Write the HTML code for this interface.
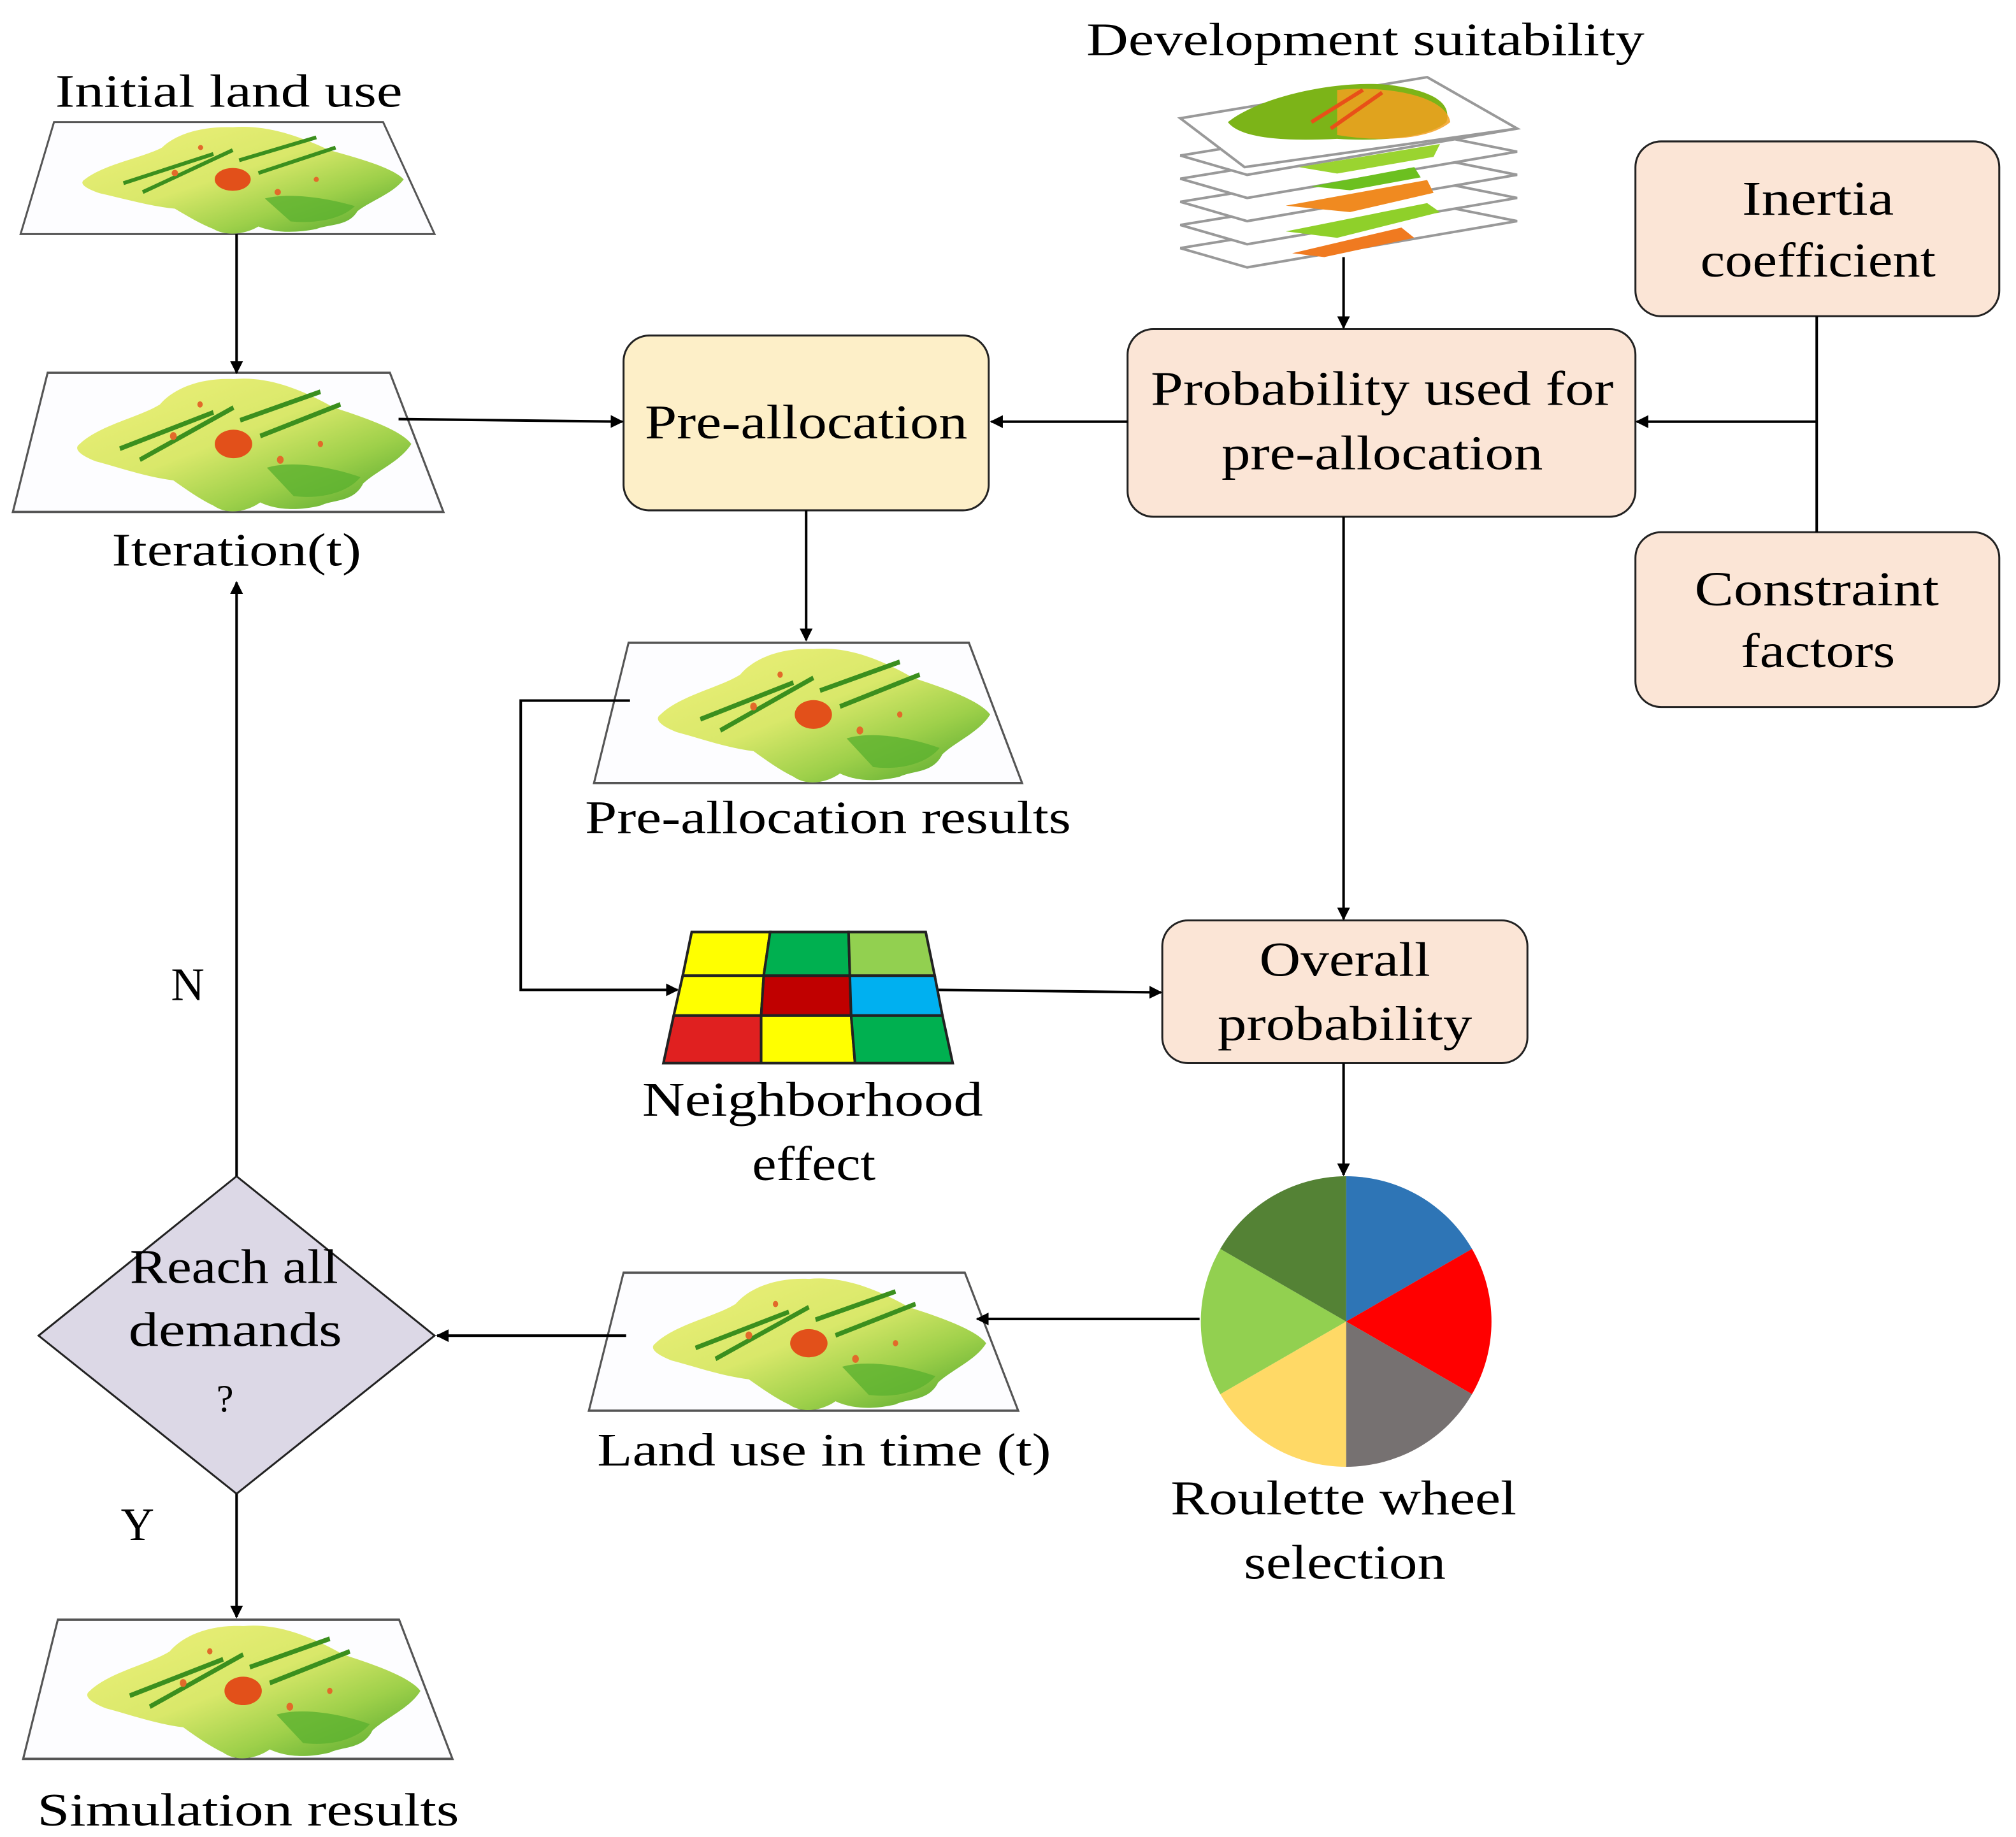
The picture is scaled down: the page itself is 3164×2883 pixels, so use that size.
<!DOCTYPE html>
<html><head><meta charset="utf-8"><style>
html,body{margin:0;padding:0;background:#fff}
svg{display:block}
text{font-family:"Liberation Serif",serif;fill:#000}
</style></head><body>
<svg width="3164" height="2883" viewBox="0 0 1568 1429" preserveAspectRatio="none" xmlns="http://www.w3.org/2000/svg">
<defs>
<marker id="ah" markerWidth="10" markerHeight="10" refX="9" refY="5" orient="auto" markerUnits="userSpaceOnUse" viewBox="0 0 10 10">
<path d="M0,0 L10,5 L0,10 z" fill="#000"/></marker>
<linearGradient id="mg" x1="0" y1="0" x2="1" y2="1">
<stop offset="0" stop-color="#eef07a"/><stop offset="0.45" stop-color="#d9e86a"/><stop offset="0.7" stop-color="#9ed04a"/><stop offset="1" stop-color="#4aa22a"/></linearGradient>
<g id="map">
<polygon points="26,0 282,0 322,88 0,88" fill="#fdfdff" stroke="#555" stroke-width="1.5"/>
<path d="M50,45 C65,33 95,28 110,20 C120,10 140,3 165,4 C190,2 215,10 240,22 C262,28 290,36 298,45 C290,56 272,62 262,70 C255,82 240,80 230,84 C210,88 195,86 185,82 C175,88 160,90 150,84 C140,80 130,74 120,68 C100,66 80,60 62,56 C50,52 45,48 50,45 Z" fill="url(#mg)"/>
<path d="M80,48 L150,25 M95,55 L165,22 M170,30 L230,12 M185,40 L245,20" stroke="#3b8f1e" stroke-width="3" fill="none"/>
<ellipse cx="165" cy="45" rx="14" ry="9" fill="#e2501a"/>
<circle cx="120" cy="40" r="2.5" fill="#e26a2a"/><circle cx="200" cy="55" r="2.5" fill="#e26a2a"/><circle cx="140" cy="20" r="2" fill="#e26a2a"/><circle cx="230" cy="45" r="2" fill="#e26a2a"/>
<path d="M190,60 C210,55 240,60 260,66 C250,76 230,80 210,78 Z" fill="#5cb230" opacity="0.8"/>
</g>
</defs>

<g transform="translate(16,95) scale(1,0.99)"><use href="#map"/></g>
<text x="178" y="83" font-size="36" text-anchor="middle" textLength="270" lengthAdjust="spacingAndGlyphs">Initial land use</text>
<g transform="translate(10,290) scale(1.04,1.23)"><use href="#map"/></g>
<text x="184" y="440" font-size="36" text-anchor="middle" textLength="194" lengthAdjust="spacingAndGlyphs">Iteration(t)</text>
<g transform="translate(462,500) scale(1.034,1.24)"><use href="#map"/></g>
<text x="644" y="648" font-size="36" text-anchor="middle" textLength="378" lengthAdjust="spacingAndGlyphs">Pre-allocation results</text>
<g transform="translate(458,990) scale(1.037,1.22)"><use href="#map"/></g>
<text x="641" y="1140" font-size="36" text-anchor="middle" textLength="353" lengthAdjust="spacingAndGlyphs">Land use in time (t)</text>
<g transform="translate(18,1260) scale(1.037,1.23)"><use href="#map"/></g>
<text x="193" y="1420" font-size="36" text-anchor="middle" textLength="328" lengthAdjust="spacingAndGlyphs">Simulation results</text>

<text x="1062" y="43" font-size="36" text-anchor="middle" textLength="434" lengthAdjust="spacingAndGlyphs">Development suitability</text>
<g stroke="#999" stroke-width="2" fill="#fff">
<polygon points="918,193 1120,160 1180,172 970,208"/>
<polygon points="918,175 1120,142 1180,154 970,190"/>
<polygon points="918,157 1120,124 1180,136 970,172"/>
<polygon points="918,139 1120,106 1180,118 970,154"/>
<polygon points="918,121 1120,88 1180,100 970,136"/>
<polygon points="918,92 1110,60 1180,100 968,130"/>
</g>
<path d="M1005,197 L1090,177 L1100,185 L1030,200Z" fill="#f07a20"/>
<path d="M1000,180 L1110,158 L1120,165 L1040,185Z" fill="#8fd02a"/>
<path d="M1000,160 L1110,140 L1115,150 L1050,165Z" fill="#f08a20"/>
<path d="M1020,145 L1100,130 L1105,138 L1050,148Z" fill="#6cc020"/>
<path d="M1010,130 L1120,112 L1115,122 L1040,135Z" fill="#9ad430"/>
<path d="M955,95 C980,75 1040,62 1080,66 C1110,70 1130,78 1125,95 C1110,108 1070,110 1040,108 C1000,110 965,108 955,95Z" fill="#7cb418"/>
<path d="M1040,70 C1080,66 1125,75 1128,95 C1110,110 1070,110 1040,105 Z" fill="#f2a020" opacity="0.85"/>
<path d="M1020,95 L1060,70 M1035,100 L1075,72" stroke="#e85018" stroke-width="3"/>

<rect x="485" y="261" width="284" height="136" rx="20" fill="#fdefc8" stroke="#222" stroke-width="1.5"/>
<text x="627" y="341" font-size="38" text-anchor="middle" textLength="251" lengthAdjust="spacingAndGlyphs">Pre-allocation</text>
<rect x="877" y="256" width="395" height="146" rx="20" fill="#fbe5d6" stroke="#222" stroke-width="1.5"/>
<text x="1075" y="315" font-size="38" text-anchor="middle" textLength="360" lengthAdjust="spacingAndGlyphs">Probability used for</text>
<text x="1075" y="365" font-size="38" text-anchor="middle" textLength="250" lengthAdjust="spacingAndGlyphs">pre-allocation</text>
<rect x="1272" y="110" width="283" height="136" rx="20" fill="#fbe5d6" stroke="#222" stroke-width="1.5"/>
<text x="1414" y="167" font-size="38" text-anchor="middle" textLength="118" lengthAdjust="spacingAndGlyphs">Inertia</text>
<text x="1414" y="215" font-size="38" text-anchor="middle" textLength="183" lengthAdjust="spacingAndGlyphs">coefficient</text>
<rect x="1272" y="414" width="283" height="136" rx="20" fill="#fbe5d6" stroke="#222" stroke-width="1.5"/>
<text x="1413" y="471" font-size="38" text-anchor="middle" textLength="190" lengthAdjust="spacingAndGlyphs">Constraint</text>
<text x="1414" y="519" font-size="38" text-anchor="middle" textLength="120" lengthAdjust="spacingAndGlyphs">factors</text>
<rect x="904" y="716" width="284" height="111" rx="20" fill="#fbe5d6" stroke="#222" stroke-width="1.5"/>
<text x="1046" y="759" font-size="38" text-anchor="middle" textLength="133" lengthAdjust="spacingAndGlyphs">Overall</text>
<text x="1046" y="809" font-size="38" text-anchor="middle" textLength="198" lengthAdjust="spacingAndGlyphs">probability</text>

<g stroke="#222" stroke-width="2">
<polygon points="538,725 599,725 594,759 531,759" fill="#ffff00"/>
<polygon points="599,725 660,725 661,759 594,759" fill="#00b050"/>
<polygon points="660,725 720,725 727,759 661,759" fill="#92d050"/>
<polygon points="531,759 594,759 592,790 524,790" fill="#ffff00"/>
<polygon points="594,759 661,759 662,790 592,790" fill="#c00000"/>
<polygon points="661,759 727,759 733,790 662,790" fill="#00b0f0"/>
<polygon points="524,790 592,790 592,827 516,827" fill="#e02020"/>
<polygon points="592,790 662,790 665,827 592,827" fill="#ffff00"/>
<polygon points="662,790 733,790 741,827 665,827" fill="#00b050"/>
</g>
<text x="632" y="868" font-size="38" text-anchor="middle" textLength="265" lengthAdjust="spacingAndGlyphs">Neighborhood</text>
<text x="633" y="918" font-size="38" text-anchor="middle" textLength="96" lengthAdjust="spacingAndGlyphs">effect</text>

<g transform="translate(1047,1028)">
<path d="M0,0 L0,-113 A113,113 0 0 1 97.9,-56.5 Z" fill="#2e75b6"/>
<path d="M0,0 L97.9,-56.5 A113,113 0 0 1 97.9,56.5 Z" fill="#ff0000"/>
<path d="M0,0 L97.9,56.5 A113,113 0 0 1 0,113 Z" fill="#767171"/>
<path d="M0,0 L0,113 A113,113 0 0 1 -97.9,56.5 Z" fill="#ffd966"/>
<path d="M0,0 L-97.9,56.5 A113,113 0 0 1 -97.9,-56.5 Z" fill="#92d050"/>
<path d="M0,0 L-97.9,-56.5 A113,113 0 0 1 0,-113 Z" fill="#548235"/>
</g>
<text x="1045" y="1178" font-size="38" text-anchor="middle" textLength="269" lengthAdjust="spacingAndGlyphs">Roulette wheel</text>
<text x="1046" y="1228" font-size="38" text-anchor="middle" textLength="157" lengthAdjust="spacingAndGlyphs">selection</text>

<polygon points="184,915 338,1039 184,1162 30,1039" fill="#dcd8e6" stroke="#222" stroke-width="1.5"/>
<text x="182" y="998" font-size="38" text-anchor="middle" textLength="162" lengthAdjust="spacingAndGlyphs">Reach all</text>
<text x="183" y="1047" font-size="38" text-anchor="middle" textLength="166" lengthAdjust="spacingAndGlyphs">demands</text>
<text x="175" y="1098" font-size="30" text-anchor="middle">?</text>
<text x="146" y="778" font-size="36" text-anchor="middle">N</text>
<text x="107" y="1198" font-size="36" text-anchor="middle">Y</text>

<g stroke="#000" stroke-width="2" fill="none">
<line x1="184" y1="182" x2="184" y2="290" marker-end="url(#ah)"/>
<line x1="310" y1="326" x2="484" y2="328" marker-end="url(#ah)"/>
<line x1="877" y1="328" x2="771" y2="328" marker-end="url(#ah)"/>
<line x1="1413" y1="246" x2="1413" y2="414"/>
<line x1="1413" y1="328" x2="1273" y2="328" marker-end="url(#ah)"/>
<line x1="1045" y1="200" x2="1045" y2="255" marker-end="url(#ah)"/>
<line x1="627" y1="397" x2="627" y2="498" marker-end="url(#ah)"/>
<polyline points="490,545 405,545 405,770 527,770" marker-end="url(#ah)"/>
<line x1="730" y1="770" x2="903" y2="772" marker-end="url(#ah)"/>
<line x1="1045" y1="402" x2="1045" y2="715" marker-end="url(#ah)"/>
<line x1="1045" y1="827" x2="1045" y2="914" marker-end="url(#ah)"/>
<line x1="933" y1="1026" x2="760" y2="1026" marker-end="url(#ah)"/>
<line x1="487" y1="1039" x2="340" y2="1039" marker-end="url(#ah)"/>
<line x1="184" y1="915" x2="184" y2="453" marker-end="url(#ah)"/>
<line x1="184" y1="1162" x2="184" y2="1258" marker-end="url(#ah)"/>
</g>
</svg>
</body></html>
